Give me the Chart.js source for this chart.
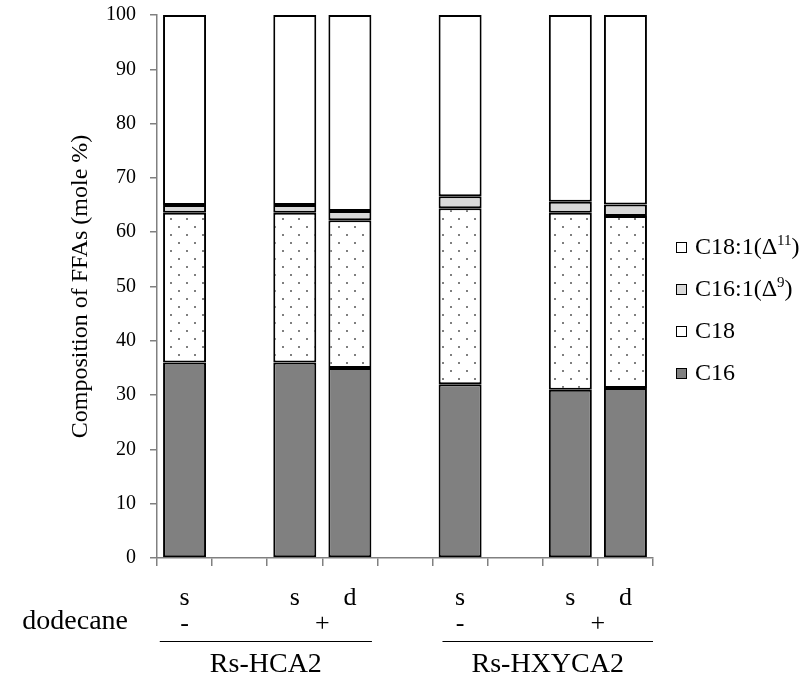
<!DOCTYPE html>
<html>
<head>
<meta charset="utf-8">
<script src="https://cdn.jsdelivr.net/npm/chart.js@4.4.1/dist/chart.umd.min.js"></script>
<style>
  html, body { margin: 0; padding: 0; background: #fff; }
  #wrap { width: 805px; height: 689px; }
</style>
</head>
<body>
<div id="wrap"><canvas id="c" width="805" height="689"></canvas></div>
<script>
// ---- data ----
const categories = ['s', '', 's', 'd', '', 's', '', 's', 'd'];
const c16   = [36.0, null, 36.0, 35.0, null, 32.0, null, 31.0, 31.3];
const c18   = [27.6, null, 27.6, 27.2, null, 32.4, null, 32.6, 31.7];
const c161  = [1.4,  null, 1.4,  1.7,  null, 2.2,  null, 2.0,  2.1];
const c181  = [35.0, null, 35.0, 36.1, null, 33.4, null, 34.4, 34.9];
const yTicks = [0, 10, 20, 30, 40, 50, 60, 70, 80, 90, 100];
const seriesNames = ['C16', 'C18', 'C16:1(Δ', 'C18:1(Δ'];
const seriesSup = ['', '', '9', '11'];
const dodecaneLabel = 'dodecane';
const signs = [{label: '-', idx: 0}, {label: '+', idx: 2.5}, {label: '-', idx: 5}, {label: '+', idx: 7.5}];
const groups = [{label: 'Rs-HCA2', from: -0.45, to: 3.4}, {label: 'Rs-HXYCA2', from: 4.68, to: 8.5}];

const FONT = "'Liberation Serif', 'Times New Roman', serif";

function dotPattern() {
  const p = document.createElement('canvas');
  p.width = 16; p.height = 16;
  const g = p.getContext('2d');
  g.fillStyle = '#ffffff';
  g.fillRect(0, 0, 16, 16);
  g.fillStyle = '#7f7f7f';
  g.fillRect(2, 2, 2, 2);
  g.fillRect(10, 10, 2, 2);
  return document.getElementById('c').getContext('2d').createPattern(p, 'repeat');
}

const fills = ['#808080', dotPattern(), '#d9d9d9', '#ffffff'];
const values = [c16, c18, c161, c181];

const datasets = values.map((v, i) => ({
  label: seriesNames[i] + (seriesSup[i] ? seriesSup[i] + ')' : ''),
  data: v,
  backgroundColor: fills[i],
  borderColor: '#000000',
  borderWidth: 2,
  borderSkipped: false,
  categoryPercentage: 1.0,
  barPercentage: 0.78
}));

const extras = {
  id: 'extras',
  afterDraw(chart) {
    const ctx = chart.ctx;
    const x = chart.scales.x;
    ctx.save();
    ctx.fillStyle = '#000';
    ctx.textBaseline = 'middle';
    ctx.font = '28px ' + FONT;
    ctx.textAlign = 'right';
    ctx.fillText(dodecaneLabel, x.getPixelForValue(-0.5) - 29, 622);
    ctx.textAlign = 'center';
    ctx.font = '26px ' + FONT;
    signs.forEach(s => ctx.fillText(s.label, x.getPixelForValue(s.idx), 624));
    ctx.strokeStyle = '#000';
    ctx.lineWidth = 1.2;
    ctx.font = '28px ' + FONT;
    groups.forEach(gr => {
      const a = x.getPixelForValue(gr.from), b = x.getPixelForValue(gr.to);
      ctx.beginPath();
      ctx.moveTo(a, 641.5); ctx.lineTo(b, 641.5);
      ctx.stroke();
      ctx.fillText(gr.label, (a + b) / 2, 665);
    });
    const lx = 676, ly0 = 247, dy = 42;
    for (let k = 0; k < 4; k++) {
      const i = 3 - k;
      const y = ly0 + k * dy;
      ctx.fillStyle = (i === 1) ? '#ffffff' : fills[i];
      ctx.fillRect(lx, y - 5, 10, 10);
      ctx.strokeStyle = '#000';
      ctx.lineWidth = 1;
      ctx.strokeRect(lx + 0.5, y - 4.5, 10, 10);
      ctx.fillStyle = '#000';
      ctx.textAlign = 'left';
      ctx.font = '24px ' + FONT;
      let tx = lx + 19;
      ctx.fillText(seriesNames[i], tx, y + 1);
      tx += ctx.measureText(seriesNames[i]).width;
      if (seriesSup[i]) {
        ctx.font = '15px ' + FONT;
        ctx.fillText(seriesSup[i], tx, y - 6);
        tx += ctx.measureText(seriesSup[i]).width;
        ctx.font = '24px ' + FONT;
        ctx.fillText(')', tx, y + 1);
      }
    }
    ctx.restore();
  }
};

new Chart(document.getElementById('c'), {
  type: 'bar',
  data: { labels: categories, datasets },
  options: {
    responsive: false,
    animation: false,
    devicePixelRatio: 1,
    layout: { padding: { top: 15, right: 152, bottom: 0, left: 0 } },
    plugins: { legend: { display: false }, tooltip: { enabled: false } },
    scales: {
      x: {
        stacked: true,
        afterFit(s) { s.height = 131; s.paddingLeft = 0; s.paddingRight = 0; },
        grid: { offset: true, drawOnChartArea: false, drawTicks: true, tickLength: 8, color: '#808080', lineWidth: 1.5 },
        border: { color: '#808080', width: 1.5 },
        ticks: { color: '#000', font: { family: FONT, size: 26 }, padding: 17, autoSkip: false, maxRotation: 0 }
      },
      y: {
        stacked: true,
        min: 0, max: 100,
        afterFit(s) { s.width = 157; s.paddingTop = 0; s.paddingBottom = 0; },
        afterBuildTicks(s) { s.ticks = yTicks.map(v => ({ value: v })); },
        grid: { drawOnChartArea: false, drawTicks: true, tickLength: 7, color: '#808080', lineWidth: 1.5 },
        border: { color: '#808080', width: 1.5 },
        ticks: { color: '#000', font: { family: FONT, size: 20 }, padding: 14 },
        title: { display: true, text: 'Composition of FFAs (mole %)', color: '#000', font: { family: FONT, size: 24 }, padding: { top: 66, bottom: 0 } }
      }
    }
  },
  plugins: [extras]
});
</script>
</body>
</html>
